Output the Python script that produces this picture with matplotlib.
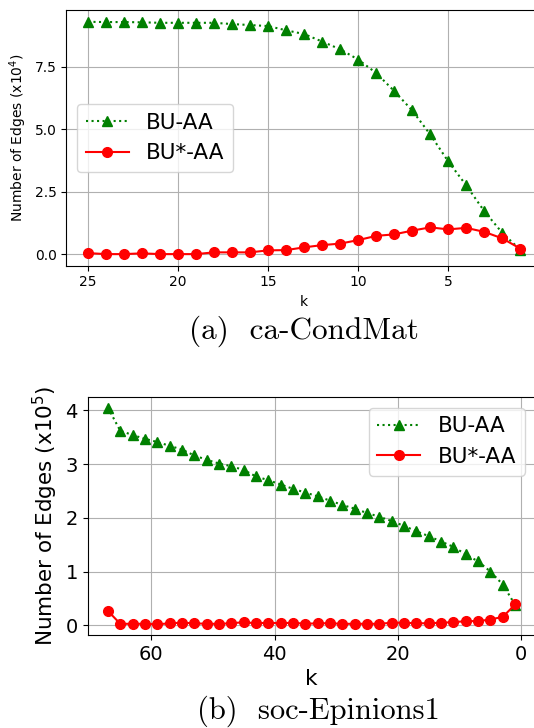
import numpy as np
import matplotlib
matplotlib.use('Agg')
import matplotlib.pyplot as plt

# ca-CondMat (x10^4 edges), k = 25 ... 1
k_cond = list(range(25, 0, -1))
bu_cond = [9.30, 9.29, 9.29, 9.28, 9.26, 9.26, 9.26, 9.26, 9.21, 9.17,
           9.13, 8.96, 8.81, 8.51, 8.20, 7.79, 7.25, 6.53, 5.75, 4.79,
           3.71, 2.75, 1.72, 0.85, 0.17]
bustar_cond = [0.04, 0.00, 0.00, 0.03, 0.00, 0.00, 0.00, 0.07, 0.07, 0.07,
               0.15, 0.16, 0.27, 0.36, 0.42, 0.56, 0.73, 0.79, 0.94, 1.07,
               0.99, 1.05, 0.89, 0.63, 0.22]
xticks_cond = [25, 20, 15, 10, 5]
yticks_cond = [0.0, 2.5, 5.0, 7.5]

# soc-Epinions1 (x10^5 edges), k = 67, 65, ... 1
k_epin = list(range(67, 0, -2))
bu_epin = [4.05, 3.62, 3.54, 3.47, 3.41, 3.34, 3.27, 3.16, 3.08, 3.01,
           2.96, 2.89, 2.77, 2.70, 2.62, 2.54, 2.47, 2.40, 2.32, 2.24,
           2.17, 2.09, 2.02, 1.94, 1.85, 1.75, 1.66, 1.56, 1.46, 1.32,
           1.19, 1.00, 0.76, 0.38]
bustar_epin = [0.27, 0.03, 0.03, 0.03, 0.02, 0.04, 0.05, 0.04, 0.03, 0.03,
               0.04, 0.06, 0.04, 0.05, 0.04, 0.05, 0.03, 0.04, 0.04, 0.03,
               0.03, 0.03, 0.03, 0.05, 0.05, 0.04, 0.04, 0.05, 0.06, 0.08,
               0.08, 0.11, 0.16, 0.39]
xticks_epin = [60, 40, 20, 0]
yticks_epin = [0, 1, 2, 3, 4]


def draw_panel(ax, k, bu, bustar, ylabel, tick_fs, label_fs, legend_loc):
    ax.plot(k, bu, 'g:^', markersize=7, label='BU-AA')
    ax.plot(k, bustar, 'r-o', markersize=7, label='BU*-AA')
    ax.invert_xaxis()
    ax.grid(True)
    ax.tick_params(labelsize=tick_fs)
    ax.set_xlabel('k', fontsize=label_fs)
    ax.set_ylabel(ylabel, fontsize=label_fs)
    ax.legend(loc=legend_loc, fontsize=15.5)


fig = plt.figure(figsize=(5.34, 7.28), dpi=100)

ax1 = fig.add_axes([0.1242, 0.635, 0.8906, 0.351])
draw_panel(ax1, k_cond, bu_cond, bustar_cond, r'Number of Edges (x10$^4$)',
           10, 10, 'center left')
ax1.set_xticks(xticks_cond)
ax1.set_yticks(yticks_cond)
ax1.set_yticklabels(['%.1f' % v for v in yticks_cond])

ax2 = fig.add_axes([0.1639, 0.1275, 0.8390, 0.3275])
draw_panel(ax2, k_epin, bu_epin, bustar_epin, r'Number of Edges (x10$^5$)',
           14, 15.5, 'upper right')
ax2.set_xticks(xticks_epin)
ax2.set_yticks(yticks_epin)

fig.text(0.569, 1 - 331.7 / 728, '(a)  ca-CondMat', family='cmr10',
         fontsize=22.5, ha='center', va='center')
fig.text(0.597, 1 - 711 / 728, '(b)  soc-Epinions1', family='cmr10',
         fontsize=22, ha='center', va='center')

fig.savefig('out.png', dpi=100)
